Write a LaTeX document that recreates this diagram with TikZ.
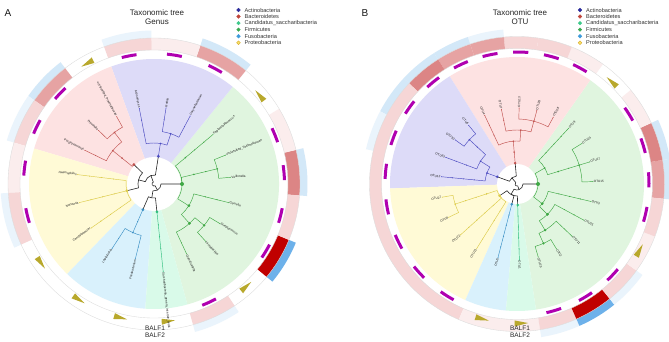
\documentclass[tikz,border=0pt]{standalone}
\usepackage{fontspec}
\setmainfont{Liberation Sans}
\definecolor{wpur}{HTML}{DDDBF8}
\definecolor{wred}{HTML}{FDE2E2}
\definecolor{wyel}{HTML}{FFFAD6}
\definecolor{wfus}{HTML}{D9F1FC}
\definecolor{wcan}{HTML}{D9FAE9}
\definecolor{wgrn}{HTML}{E0F5DF}
\definecolor{lpur}{HTML}{4A4AC0}
\definecolor{lred}{HTML}{C0504D}
\definecolor{lyel}{HTML}{DCCB4A}
\definecolor{lfus}{HTML}{3A8FC4}
\definecolor{lcan}{HTML}{2FBF7E}
\definecolor{lgrn}{HTML}{3FA845}
\definecolor{pk1}{HTML}{FBEDED}
\definecolor{pk2}{HTML}{F6D6D6}
\definecolor{pk3}{HTML}{E6A3A3}
\definecolor{pk4}{HTML}{DC8585}
\definecolor{dred}{HTML}{C00000}
\definecolor{bl1}{HTML}{EAF4FC}
\definecolor{bl2}{HTML}{D3E8F8}
\definecolor{bl3}{HTML}{6DB1EA}
\definecolor{magc}{HTML}{B000B0}
\definecolor{olivec}{HTML}{B8A82C}
\definecolor{gA}{HTML}{2B2B9B}
\definecolor{gB}{HTML}{C0453A}
\definecolor{gC}{HTML}{3CC98A}
\definecolor{gF}{HTML}{3BA84F}
\definecolor{gU}{HTML}{3E9BDB}
\definecolor{gP}{HTML}{F5E26B}
\definecolor{gPo}{HTML}{D9A520}
\tikzset{
  leaflab/.style={font=\fontsize{3.1}{3.3}\selectfont, inner sep=0.7pt, text=black!90},
  magdash/.style={draw=magc, line width=3pt},
  ringline/.style={draw=black!14, line width=0.35pt},
  legtext/.style={font=\fontsize{5.6}{6}\selectfont, anchor=west, inner sep=0pt, text=black!80},
  backbone/.style={draw=black!85, fill=black!85, line width=0.6pt},
  clade/.style={color=#1, line width=0.45pt},
  titletext/.style={font=\fontsize{8}{9.2}\selectfont, align=center, text=black!85},
  balftext/.style={font=\fontsize{6.5}{7.5}\selectfont, align=center, text=black!85},
  panellab/.style={font=\fontsize{10}{12}\selectfont, text=black!90},
}
\newcommand\sector[4]{\fill[#4] (0,0) -- (#1:#3pt) arc[start angle=#1,end angle=#2,radius=#3pt] -- cycle;}
\newcommand\ringseg[5]{\fill[#5] (#3:#1pt) arc[start angle=#3,end angle=#4,radius=#1pt] -- (#4:#2pt) arc[start angle=#4,end angle=#3,radius=#2pt] -- cycle;}
\newcommand\mdash[2]{\pgfmathsetmacro\mdA{#1-3.3}\pgfmathsetmacro\mdB{#1+3.3}\draw[magdash] (\mdA:#2pt) arc[start angle=\mdA,end angle=\mdB,radius=#2pt];}
\newcommand\otri[2]{\pgfmathsetmacro\tA{#1-2.8}\pgfmathsetmacro\tB{#1+2.8}\pgfmathsetmacro\tRi{#2-3}\pgfmathsetmacro\tRo{#2+3}\fill[olivec] (\tA:\tRi pt) -- (\tA:\tRo pt) -- (\tB:#2pt) -- cycle;}
\newcommand\tbr[4]{\draw (#1:#2pt) arc[start angle=#1,end angle=#3,radius=#2pt] -- (#3:#4pt);}
\newcommand\tdot[3]{\fill (#1:#2pt) circle[radius=#3pt];}
\newcounter{lfc}
\newcommand\tleaf[5]{\tbr{#1}{#2}{#3}{#4}%
  \foreach \rr in \ranks {\pgfmathparse{and(\rr>#2+1,\rr<#4-1)}\ifdim\pgfmathresult pt>0.5pt\fill (#3:\rr pt) circle[radius=0.55pt];\fi}%
  \fill (#3:#4pt) circle[radius=0.45pt];%
  \stepcounter{lfc}%
  \pgfmathparse{cos(#3)>-0.0001}%
  \ifdim\pgfmathresult pt>0.5pt
    \node[leaflab,rotate=#3,anchor=west] (lf\arabic{lfc}) at (#3:#4pt) {#5};
  \else
    \node[leaflab,rotate=#3+180,anchor=east] (lf\arabic{lfc}) at (#3:#4pt) {#5};
  \fi}
\newcommand\legrow[6]{\filldraw[fill=#3,draw=#4,line width=0.4pt] (#1,#2) circle[radius=1.8pt];
  \node[legtext] (#6) at (#1+6,#2) {#5};}
\begin{document}
\begin{tikzpicture}[x=1pt,y=1pt]
\useasboundingbox (0,0) rectangle (669,341);
\fill[white] (0,0) rectangle (669,341);
%%%%%%%%%%%%%%%%%%%% PANEL A
\begin{scope}[shift={(154,157)}]
\sector{-74.5}{51}{125}{wgrn}
\sector{51}{110}{125}{wpur}
\sector{110}{163.5}{125}{wred}
\sector{163.5}{226}{125}{wyel}
\sector{226}{266}{125}{wfus}
\sector{266}{285.5}{125}{wcan}
\fill[white] (0,0) circle[radius=27pt];
% outer ring
\ringseg{146}{153.5}{-4.5}{13.5}{bl2}
\ringseg{146}{153.5}{51}{71.5}{bl2}
\ringseg{146}{153.5}{91}{110}{bl1}
\ringseg{146}{153.5}{127.5}{145}{bl2}
\ringseg{146}{153.5}{145}{163.5}{bl1}
\ringseg{146}{153.5}{183.5}{204.5}{bl1}
\ringseg{146}{153.5}{-74.5}{-56.5}{bl1}
\ringseg{146}{153.5}{-39.5}{-22.5}{bl3}
% inner ring
\ringseg{134}{146}{-4.5}{13.5}{pk4}
\ringseg{134}{146}{13.5}{31}{pk1}
\ringseg{134}{146}{51}{71.5}{pk3}
\ringseg{134}{146}{71.5}{91}{pk1}
\ringseg{134}{146}{91}{110}{pk2}
\ringseg{134}{146}{127.5}{145}{pk3}
\ringseg{134}{146}{145}{163.5}{pk2}
\ringseg{134}{146}{163.5}{183.5}{pk1}
\ringseg{134}{146}{183.5}{204.5}{pk2}
\ringseg{134}{146}{-74.5}{-56.5}{pk2}
\ringseg{134}{146}{-39.5}{-22.5}{dred}
\ringseg{134}{146}{-22.5}{-4.5}{pk2}
\draw[ringline] (0,0) circle[radius=134pt] (0,0) circle[radius=146pt];
\foreach \a in {5,22,62,81,101,136,154,173,194,-65,-31,-14} {\mdash{\a}{130.5}}
\foreach \a in {40,119,215,237,256,276,-48} {\otri{\a}{138}}
% backbone
\begin{scope}[backbone]
\tbr{200}{2}{110}{9}
\tbr{110}{9}{81}{28}
\tbr{110}{9}{165}{16}
\tbr{165}{16}{136}{28}
\tbr{165}{16}{194}{28}
\tbr{200}{2}{300}{7}
\tbr{300}{7}{360}{28}
\tbr{300}{7}{261}{14}
\tbr{261}{14}{246.5}{28}
\tbr{261}{14}{276}{28}
\end{scope}
\def\ranks{41,53,65}
\begin{scope}[clade=lpur]
\tbr{81}{28}{81}{41}
\tleaf{81}{41}{101}{77}{Actinomyces}
\tbr{81}{41}{71.5}{53}
\tleaf{71.5}{53}{81}{77}{Rothia}
\tleaf{71.5}{53}{62}{77}{Corynebacterium}
\tdot{81}{41}{0.9}\tdot{71.5}{53}{0.9}\tdot{81}{28}{1.5}
\end{scope}
\begin{scope}[clade=lred]
\tbr{136}{28}{141}{41}
\tbr{141}{41}{141}{53}
\tleaf{141}{53}{154}{77}{Porphyromonas}
\tbr{141}{53}{127.5}{65}
\tleaf{127.5}{65}{119}{77}{unclassified\_Prevotellaceae}
\tleaf{127.5}{65}{136}{77}{Prevotella}
\tdot{141}{41}{0.9}\tdot{141}{53}{0.9}\tdot{127.5}{65}{0.9}\tdot{136}{28}{1.5}
\end{scope}
\begin{scope}[clade=lyel]
\tleaf{194}{28}{173}{77}{Haemophilus}
\tleaf{194}{28}{194}{77}{Neisseria}
\tleaf{194}{28}{215}{77}{Campylobacter}
\tdot{194}{28}{1.5}
\end{scope}
\begin{scope}[clade=lfus]
\tbr{246.5}{28}{246.5}{53}
\tleaf{246.5}{53}{237}{77}{Leptotrichia}
\tleaf{246.5}{53}{256}{77}{Fusobacterium}
\tdot{246.5}{41}{0.55}\tdot{246.5}{53}{0.9}\tdot{246.5}{28}{1.5}
\end{scope}
\begin{scope}[clade=lcan]
\tleaf{276}{28}{276}{88}{Saccharibacteria\_genera\_incertae\_sedis}
\tdot{276}{28}{1.5}
\end{scope}
\begin{scope}[clade=lgrn]
\tbr{0}{28}{40}{41}
\tleaf{40}{41}{40}{77}{Peptostreptococcus}
\tbr{0}{28}{13.5}{41}
\tbr{13.5}{41}{13.5}{65}
\tleaf{13.5}{65}{5}{77}{Veillonella}
\tleaf{13.5}{65}{22}{77}{unclassified\_Veillonellaceae}
\tbr{0}{28}{-32}{41}
\tleaf{-32}{41}{-14}{77}{Gemella}
\tbr{-32}{41}{-48}{53}
\tleaf{-48}{53}{-65}{77}{Granulicatella}
\tbr{-48}{53}{-39.5}{65}
\tleaf{-39.5}{65}{-48}{77}{Lactobacillus}
\tleaf{-39.5}{65}{-31}{77}{Streptococcus}
\tdot{0}{28}{2}\tdot{40}{41}{0.9}\tdot{13.5}{41}{0.9}\tdot{13.5}{53}{0.6}\tdot{13.5}{65}{0.9}
\tdot{-32}{41}{1.5}\tdot{-48}{53}{1.5}\tdot{-39.5}{65}{1.3}
\end{scope}
\end{scope}
%%%%%%%%%%%%%%%%%%%% PANEL B
\begin{scope}[shift={(517,157)}]
\sector{-81.4}{54.8}{127}{wgrn}
\sector{54.8}{122}{127}{wred}
\sector{122}{182}{127}{wpur}
\sector{182}{246}{127}{wyel}
\sector{246}{265}{127}{wfus}
\sector{265}{278.6}{127}{wcan}
\fill[white] (0,0) circle[radius=20pt];
% outer ring
\ringseg{147.5}{155}{-5.75}{9.35}{bl2}
\ringseg{147.5}{155}{9.35}{24.45}{bl2}
\ringseg{147.5}{155}{95.1}{108.5}{bl1}
\ringseg{147.5}{155}{108.5}{122.35}{bl2}
\ringseg{147.5}{155}{122.35}{137}{bl2}
\ringseg{147.5}{155}{137}{152}{bl2}
\ringseg{147.5}{155}{152}{167}{bl1}
\ringseg{147.5}{155}{-81}{-66.25}{bl1}
\ringseg{147.5}{155}{-66.25}{-51.1}{bl3}
\ringseg{147.5}{155}{-51.1}{-35.95}{bl1}
% inner ring
\ringseg{135.5}{147.5}{-5.75}{9.35}{pk3}
\ringseg{135.5}{147.5}{9.35}{24.45}{pk4}
\ringseg{135.5}{147.5}{24.45}{39.6}{pk1}
\ringseg{135.5}{147.5}{54.35}{68.2}{pk1}
\ringseg{135.5}{147.5}{68.2}{81.65}{pk2}
\ringseg{135.5}{147.5}{81.65}{95.1}{pk2}
\ringseg{135.5}{147.5}{95.1}{108.5}{pk3}
\ringseg{135.5}{147.5}{108.5}{122.35}{pk3}
\ringseg{135.5}{147.5}{122.35}{137}{pk4}
\ringseg{135.5}{147.5}{137}{246.75}{pk2}
\ringseg{135.5}{147.5}{246.75}{279}{pk1}
\ringseg{135.5}{147.5}{-81}{-66.25}{pk2}
\ringseg{135.5}{147.5}{-66.25}{-51.1}{dred}
\ringseg{135.5}{147.5}{-51.1}{-35.95}{pk2}
\ringseg{135.5}{147.5}{-35.95}{-20.85}{pk1}
\ringseg{135.5}{147.5}{-20.85}{-5.75}{pk2}
\draw[ringline] (0,0) circle[radius=135.5pt] (0,0) circle[radius=147.5pt];
\foreach \a in {1.8,16.9,32,61.5,74.9,88.4,101.8,115.2,129.5,144.5,159.5,174.5,190,206,222,238,-73.8,-58.7,-43.5,-13.3} {\mdash{\a}{132}}
\foreach \a in {47.2,-28.4,255.5,271.8} {\otri{\a}{139.5}}
\begin{scope}[backbone]
\tbr{200}{2}{130}{8}
\tbr{130}{8}{160}{21}
\tbr{130}{8}{95}{21}
\tbr{200}{2}{290}{6}
\tbr{290}{6}{360}{21}
\tbr{290}{6}{240}{12}
\tbr{240}{12}{214}{21}
\tbr{240}{12}{255.5}{21}
\tbr{240}{12}{271.8}{21}
\end{scope}
\def\ranks{32,43,54,65}
\begin{scope}[clade=lred]
\tbr{95}{21}{95}{43}
\tleaf{95}{43}{115.2}{76}{OTU4}
\tbr{95}{43}{86}{54}
\tleaf{86}{54}{101.8}{76}{OTU7}
\tbr{86}{54}{75}{65}
\tleaf{75}{65}{88.4}{76}{OTU13}
\tleaf{75}{65}{74.9}{76}{OTU23}
\tleaf{75}{65}{61.5}{76}{OTU28}
\tdot{95}{21}{1.4}\tdot{95}{32}{0.9}\tdot{95}{43}{0.9}\tdot{86}{54}{0.9}\tdot{75}{65}{0.9}
\end{scope}
\begin{scope}[clade=lpur]
\tbr{160}{21}{160}{32}
\tleaf{160}{32}{174.5}{76}{OTU12}
\tbr{160}{32}{148}{43}
\tleaf{148}{43}{159.5}{76}{OTU33}
\tbr{148}{43}{137}{65}
\tleaf{137}{65}{144.5}{76}{OTU30}
\tleaf{137}{65}{129.5}{76}{OTU6}
\tdot{160}{21}{1.4}\tdot{160}{32}{0.9}\tdot{148}{43}{0.9}\tdot{137}{54}{0.6}\tdot{137}{65}{0.9}
\end{scope}
\begin{scope}[clade=lyel]
\tbr{214}{21}{198}{32}
\tbr{198}{32}{198}{65}
\tleaf{198}{65}{190}{76}{OTU27}
\tleaf{198}{65}{206}{76}{OTU8}
\tleaf{214}{21}{222}{76}{OTU22}
\tleaf{214}{21}{238}{76}{OTU21}
\tdot{214}{21}{1.4}\tdot{198}{32}{0.9}\tdot{198}{43}{0.6}\tdot{198}{54}{0.6}\tdot{198}{65}{0.9}
\end{scope}
\begin{scope}[clade=lfus]
\tleaf{255.5}{21}{255.5}{76}{OTU5}
\tdot{255.5}{21}{1.4}
\end{scope}
\begin{scope}[clade=lcan]
\tleaf{271.8}{21}{271.8}{76}{OTU1}
\tdot{271.8}{21}{1.4}
\end{scope}
\begin{scope}[clade=lgrn]
\tbr{0}{21}{30}{32}
\tleaf{30}{32}{47.2}{76}{OTU9}
\tbr{30}{32}{16.9}{43}
\tbr{16.9}{43}{16.9}{65}
\tleaf{16.9}{65}{1.8}{76}{OTU15}
\tleaf{16.9}{65}{16.9}{76}{OTU17}
\tleaf{16.9}{65}{32}{76}{OTU24}
\tbr{0}{21}{-38}{32}
\tleaf{-38}{32}{-13.3}{76}{OTU3}
\tbr{-38}{32}{-45}{43}
\tleaf{-45}{43}{-28.4}{76}{OTU25}
\tbr{-45}{43}{-58.7}{54}
\tleaf{-58.7}{54}{-43.5}{76}{OTU11}
\tbr{-58.7}{54}{-66}{65}
\tleaf{-66}{65}{-58.7}{76}{OTU2}
\tleaf{-66}{65}{-73.8}{76}{OTU19}
\tdot{0}{21}{2}\tdot{30}{32}{0.9}\tdot{16.9}{43}{0.9}\tdot{16.9}{54}{0.6}\tdot{16.9}{65}{0.9}
\tdot{-38}{32}{1.5}\tdot{-45}{43}{1.5}\tdot{-58.7}{54}{1.3}\tdot{-66}{65}{1.3}
\end{scope}
\end{scope}
%%%%%%%%%%%%%%%%%%%% TEXTS
\node[panellab] (labA) at (8,328) {A};
\node[panellab] (labB) at (365,328) {B};
\node[titletext] (titA) at (157,323.5) {Taxonomic tree\\Genus};
\node[titletext] (titB) at (520,323.5) {Taxonomic tree\\OTU};
\node[balftext] (balfA) at (155,9.3) {BALF1\\BALF2};
\node[balftext] (balfB) at (520,9.3) {BALF1\\BALF2};
\legrow{238.5}{331}{gA}{gA}{Actinobacteria}{lgA1}
\legrow{238.5}{324.45}{gB}{gB}{Bacteroidetes}{lgA2}
\legrow{238.5}{317.9}{gC}{gC}{Candidatus\_saccharibacteria}{lgA3}
\legrow{238.5}{311.35}{gF}{gF}{Firmicutes}{lgA4}
\legrow{238.5}{304.8}{gU}{gU}{Fusobacteria}{lgA5}
\legrow{238.5}{298.25}{gP}{gPo}{Proteobacteria}{lgA6}
\legrow{580}{331}{gA}{gA}{Actinobacteria}{lgB1}
\legrow{580}{324.45}{gB}{gB}{Bacteroidetes}{lgB2}
\legrow{580}{317.9}{gC}{gC}{Candidatus\_saccharibacteria}{lgB3}
\legrow{580}{311.35}{gF}{gF}{Firmicutes}{lgB4}
\legrow{580}{304.8}{gU}{gU}{Fusobacteria}{lgB5}
\legrow{580}{298.25}{gP}{gPo}{Proteobacteria}{lgB6}
\end{tikzpicture}
\end{document}
